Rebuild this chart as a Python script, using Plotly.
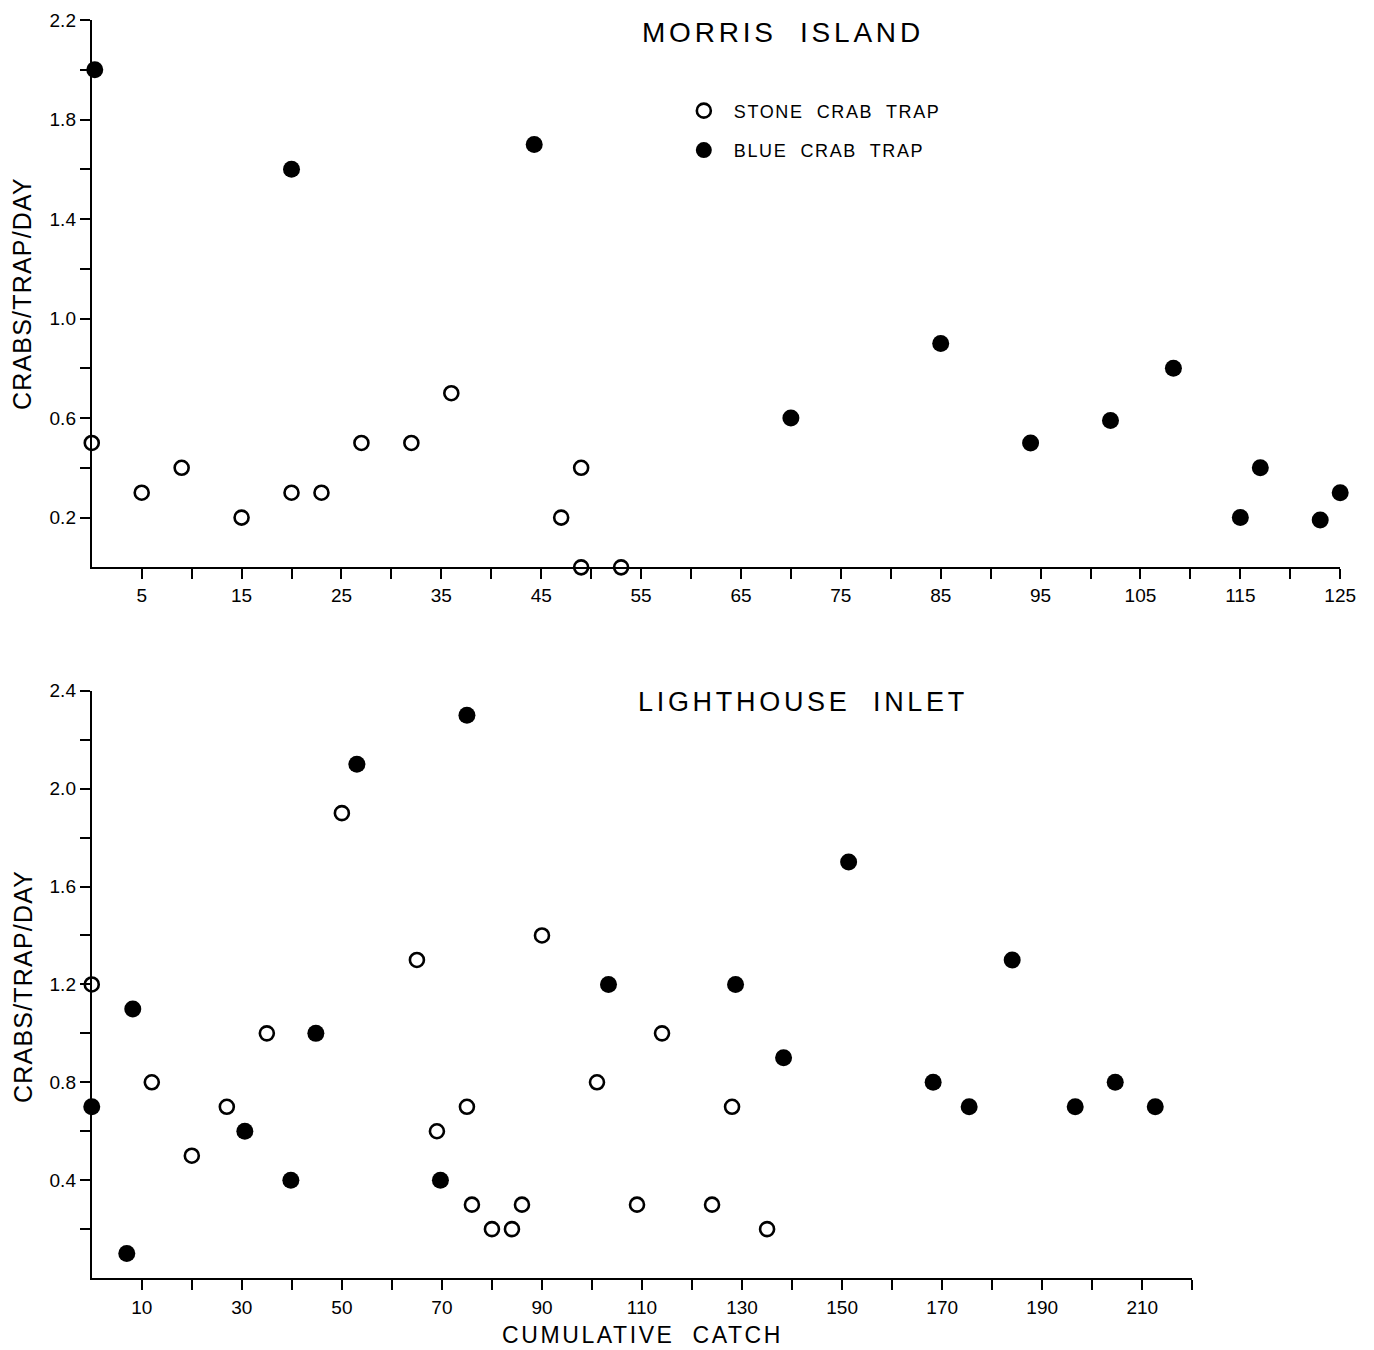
import plotly.graph_objects as go

# ---------------- data ----------------
# Morris Island
mi_stone_x = [0, 5, 9, 15, 20, 23, 27, 32, 36, 47, 49, 49, 53]
mi_stone_y = [0.5, 0.3, 0.4, 0.2, 0.3, 0.3, 0.5, 0.5, 0.7, 0.2, 0.4, 0.0, 0.0]
mi_blue_x = [0.3, 20, 44.3, 70, 85, 94, 102, 108.3, 115, 117, 123, 125]
mi_blue_y = [2.0, 1.6, 1.7, 0.6, 0.9, 0.5, 0.59, 0.8, 0.2, 0.4, 0.19, 0.3]

# Lighthouse Inlet
li_stone_x = [0, 12, 20, 27, 35, 50, 65, 69, 75, 76, 80, 84, 86, 90, 101, 109, 114, 124, 128, 135]
li_stone_y = [1.2, 0.8, 0.5, 0.7, 1.0, 1.9, 1.3, 0.6, 0.7, 0.3, 0.2, 0.2, 0.3, 1.4, 0.8, 0.3, 1.0, 0.3, 0.7, 0.2]
li_blue_x = [0, 7, 8.2, 30.6, 39.8, 44.8, 53, 69.7, 75, 103.3, 128.7, 138.3, 151.3, 168.2, 175.4, 184, 196.6, 204.6, 212.6]
li_blue_y = [0.7, 0.1, 1.1, 0.6, 0.4, 1.0, 2.1, 0.4, 2.3, 1.2, 1.2, 0.9, 1.7, 0.8, 0.7, 1.3, 0.7, 0.8, 0.7]

# tick labels (labelled ticks) and unlabelled minor ticks
top_x_tickvals = [5, 15, 25, 35, 45, 55, 65, 75, 85, 95, 105, 115, 125]
top_x_ticktext = ["5", "15", "25", "35", "45", "55", "65", "75", "85", "95", "105", "115", "125"]
top_x_minor = [10, 20, 30, 40, 50, 60, 70, 80, 90, 100, 110, 120]
top_y_tickvals = [0.2, 0.6, 1.0, 1.4, 1.8, 2.2]
top_y_ticktext = ["0.2", "0.6", "1.0", "1.4", "1.8", "2.2"]
top_y_minor = [0.4, 0.8, 1.2, 1.6, 2.0]
bot_x_tickvals = [10, 30, 50, 70, 90, 110, 130, 150, 170, 190, 210]
bot_x_ticktext = ["10", "30", "50", "70", "90", "110", "130", "150", "170", "190", "210"]
bot_x_minor = [20, 40, 60, 80, 100, 120, 140, 160, 180, 200, 220]
bot_y_tickvals = [0.4, 0.8, 1.2, 1.6, 2.0, 2.4]
bot_y_ticktext = ["0.4", "0.8", "1.2", "1.6", "2.0", "2.4"]
bot_y_minor = [0.2, 0.6, 1.0, 1.4, 1.8, 2.2]

series_names = ["STONE  CRAB  TRAP", "BLUE  CRAB  TRAP"]
titles = ["MORRIS  ISLAND", "LIGHTHOUSE  INLET"]
y_title = "CRABS/TRAP/DAY"
x_title = "CUMULATIVE  CATCH"

# ---------------- styles / geometry ----------------
FONT = "Liberation Sans"
W, H = 1374, 1344


def fx(o):
    """screen x pixel -> figure pixel"""
    return (o - 7.2) / 0.9888


def fy(o):
    """screen y pixel -> figure pixel"""
    return (o - 18.0) / 0.9914


def px(o):
    return fx(o) / W


def py(o):
    return 1 - fy(o) / H


def spaced(text, ls):
    return '<span style="letter-spacing:%spx">%s</span>' % (ls, text)


open_marker = dict(symbol="circle", size=14, color="white", line=dict(color="black", width=2.6))
fill_marker = dict(symbol="circle", size=17, color="black", line=dict(color="black", width=0))

fig = go.Figure()
fig.add_trace(go.Scatter(x=mi_stone_x, y=mi_stone_y, mode="markers", marker=open_marker,
                         name=spaced(series_names[0], 1.6), legendgroup="a", cliponaxis=False,
                         xaxis="x", yaxis="y"))
fig.add_trace(go.Scatter(x=mi_blue_x, y=mi_blue_y, mode="markers", marker=fill_marker,
                         name=spaced(series_names[1], 1.6), legendgroup="b", cliponaxis=False,
                         xaxis="x", yaxis="y"))
fig.add_trace(go.Scatter(x=li_stone_x, y=li_stone_y, mode="markers", marker=open_marker,
                         name=series_names[0], showlegend=False, cliponaxis=False,
                         xaxis="x2", yaxis="y2"))
fig.add_trace(go.Scatter(x=li_blue_x, y=li_blue_y, mode="markers", marker=fill_marker,
                         name=series_names[1], showlegend=False, cliponaxis=False,
                         xaxis="x2", yaxis="y2"))

tick_style = dict(ticks="outside", ticklen=10, tickwidth=2, tickcolor="black")
axis_common = dict(showgrid=False, zeroline=False, showline=True, linecolor="black", linewidth=2,
                   tickfont=dict(family=FONT, size=19, color="black"), fixedrange=True,
                   tickmode="array", **tick_style)


def minor(vals):
    return dict(tickmode="array", tickvals=vals, **tick_style)


fig.update_layout(
    width=W, height=H, autosize=False,
    margin=dict(l=0, r=0, t=0, b=0),
    paper_bgcolor="white", plot_bgcolor="white",
    font=dict(family=FONT, color="black"),
    xaxis=dict(axis_common, domain=[px(91), px(1340)], anchor="y", range=[0, 125],
               tickvals=top_x_tickvals, ticktext=top_x_ticktext,
               minor=minor(top_x_minor), ticklabelstandoff=0),
    yaxis=dict(axis_common, domain=[py(566.7), py(20)], anchor="x", range=[0, 2.2],
               tickvals=top_y_tickvals, ticktext=top_y_ticktext,
               minor=minor(top_y_minor), ticklabelstandoff=0),
    xaxis2=dict(axis_common, domain=[px(91), px(1192)], anchor="y2", range=[0, 220],
                tickvals=bot_x_tickvals, ticktext=bot_x_ticktext,
                minor=minor(bot_x_minor), ticklabelstandoff=1),
    yaxis2=dict(axis_common, domain=[py(1276.6), py(690)], anchor="x2", range=[0, 2.4],
                tickvals=bot_y_tickvals, ticktext=bot_y_ticktext,
                minor=minor(bot_y_minor), ticklabelstandoff=0),
    showlegend=True,
    legend=dict(x=(fx(703) - 30) / W, y=1 - (fy(110) - 17.8) / H, xanchor="left", yanchor="top",
                itemwidth=50,
                font=dict(family=FONT, size=18, color="black"),
                bgcolor="rgba(0,0,0,0)", traceorder="grouped", tracegroupgap=13,
                itemclick=False, itemdoubleclick=False),
    annotations=[
        dict(text=spaced(titles[0], 3.8), x=px(783), y=py(32), xref="paper", yref="paper",
             xanchor="center", yanchor="middle",
             showarrow=False, font=dict(family=FONT, size=28, color="black")),
        dict(text=spaced(titles[1], 3.7), x=px(803), y=py(701), xref="paper", yref="paper",
             xanchor="center", yanchor="middle",
             showarrow=False, font=dict(family=FONT, size=27, color="black")),
        dict(text=spaced(y_title, 1.2), x=px(22), y=py(293), xref="paper", yref="paper",
             xanchor="center", yanchor="middle",
             textangle=-90, showarrow=False, font=dict(family=FONT, size=25, color="black")),
        dict(text=spaced(y_title, 1.2), x=px(22), y=py(985), xref="paper", yref="paper",
             xanchor="center", yanchor="middle",
             textangle=-90, showarrow=False, font=dict(family=FONT, size=25, color="black")),
        dict(text=spaced(x_title, 2.6), x=px(642), y=py(1333), xref="paper", yref="paper",
             xanchor="center", yanchor="middle",
             showarrow=False, font=dict(family=FONT, size=23, color="black")),
    ],
)

fig.write_html("out.html")
